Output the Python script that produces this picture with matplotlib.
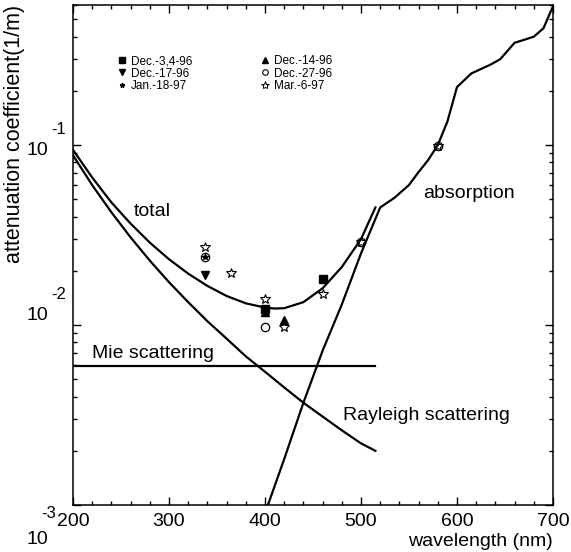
import math
import matplotlib
matplotlib.use("Agg")
import matplotlib.pyplot as plt
from matplotlib.ticker import MultipleLocator, LogLocator, NullFormatter, FixedLocator
from matplotlib.lines import Line2D

plt.rcParams['font.family'] = ['Liberation Sans', 'DejaVu Sans']

# ---- data ----
wl_total = [200, 220, 240, 260, 280, 300, 320, 340, 360, 380, 400, 410, 420, 440, 460, 480, 500, 515]
total = [0.094, 0.066, 0.048, 0.0366, 0.0287, 0.0232, 0.0193, 0.0165, 0.0145, 0.0132,
         0.0125, 0.01235, 0.0124, 0.0134, 0.0160, 0.0210, 0.0300, 0.045]

wl_rayleigh = [200, 220, 240, 260, 280, 300, 320, 340, 360, 380, 400, 420, 440, 460, 480, 500, 515]
rayleigh = [0.0877, 0.0599, 0.0423, 0.0307, 0.0228, 0.0173, 0.0134, 0.0105, 0.0084, 0.0067,
            0.0055, 0.0045, 0.0037, 0.0031, 0.0026, 0.0022, 0.0020]

wl_mie = [200, 515]
mie = [0.0059, 0.0059]

wl_absorption = [400, 420, 440, 460, 480, 500, 520, 535, 550, 560, 570, 580, 590, 600,
                 615, 635, 645, 660, 667, 680, 690, 700]
absorption = [0.0009, 0.0018, 0.0037, 0.0072, 0.013, 0.025, 0.045, 0.051, 0.060, 0.0708,
              0.0826, 0.100, 0.135, 0.21, 0.25, 0.28, 0.30, 0.37, 0.38, 0.40, 0.445, 0.59]

# measurements
dec3_wl = [400, 460]
dec3 = [0.0122, 0.018]
dec14_wl = [420, 400]
dec14 = [0.0106, 0.0118]
dec17_wl = [337, 400]
dec17 = [0.019, 0.0120]
dec27_wl = [337, 400, 500, 580]
dec27 = [0.024, 0.0098, 0.029, 0.099]
jan18_wl = [337]
jan18 = [0.024]
mar6_wl = [337, 365, 400, 420, 460, 500, 580]
mar6 = [0.027, 0.0195, 0.0140, 0.0098, 0.0149, 0.029, 0.099]

xticks = [200, 300, 400, 500, 600, 700]
ydecades = [1e-1, 1e-2, 1e-3]

# ---- figure ----
W, H = 571, 552
fig = plt.figure(figsize=(W / 100, H / 100), dpi=100)
L, R, T, B = 73, 553, 5, 505
ax = fig.add_axes([L / W, 1 - B / H, (R - L) / W, (B - T) / H])

lw = 1.6
ax.plot(wl_total, total, color='black', lw=lw)
ax.plot(wl_rayleigh, rayleigh, color='black', lw=lw)
ax.plot(wl_mie, mie, color='black', lw=lw)
ax.plot(wl_absorption, absorption, color='black', lw=lw)

ms = dict(linestyle='none', color='black')
ax.plot(dec3_wl, dec3, marker='s', markersize=5.5, **ms)
ax.plot(dec14_wl, dec14, marker='^', markersize=5.5, **ms)
ax.plot(dec17_wl, dec17, marker='v', markersize=5.5, **ms)
ax.plot(dec27_wl, dec27, marker='o', markersize=6, mfc='none', mew=0.9, **ms)
ax.plot(jan18_wl, jan18, marker='*', markersize=4, **ms)
ax.plot(mar6_wl, mar6, marker='*', markersize=7.5, mfc='none', mew=0.8, **ms)

ax.set_yscale('log')
ax.set_xlim(200, 700)
ax.set_ylim(1e-3, 0.6)

ax.xaxis.set_major_locator(FixedLocator(xticks))
ax.xaxis.set_minor_locator(MultipleLocator(20))
ax.set_xticklabels([str(v) for v in xticks])
ax.yaxis.set_major_locator(FixedLocator(ydecades))
ax.yaxis.set_minor_locator(LogLocator(base=10, subs=range(2, 10), numticks=20))
ax.yaxis.set_major_formatter(NullFormatter())
ax.yaxis.set_minor_formatter(NullFormatter())

ax.tick_params(which='both', direction='in', top=True, right=True, width=1.0)
ax.tick_params(which='major', length=6, labelsize=14, pad=6)
ax.tick_params(which='minor', length=3)
for s in ax.spines.values():
    s.set_linewidth(1.1)

# y tick labels in the "10 with exponent" style
# (dy: pixel offset of "10" downwards; ex, ey: exponent right edge / centre offsets in px)
for val, dy, ex, ey in zip(ydecades, [5, -10, 35], [-7, -7, -17], [-16, -31, 8]):
    ax.annotate('10', xy=(0, val), xycoords=('axes fraction', 'data'),
                xytext=(-18, -dy * 0.72), textcoords='offset points',
                ha='right', va='center', fontsize=14)
    ax.annotate('%d' % round(math.log10(val)), xy=(0, val),
                xycoords=('axes fraction', 'data'),
                xytext=(ex * 0.72, -ey * 0.72), textcoords='offset points',
                ha='right', va='center', fontsize=12)

fig.text(15 / W, 1 - 5 / H, 'attenuation coefficient(1/m)', rotation=90,
         ha='center', va='top', fontsize=15.5)
fig.text(R / W, 1 - 541 / H, 'wavelength (nm)', ha='right', va='center', fontsize=14)

ax.text(0.127, 0.5866, 'total', transform=ax.transAxes, ha='left', va='center', fontsize=14)
ax.text(0.921, 0.622, 'absorption', transform=ax.transAxes, ha='right', va='center', fontsize=14)
ax.text(0.0402, 0.302, 'Mie scattering', transform=ax.transAxes, ha='left', va='center', fontsize=14)
ax.text(0.5619, 0.18, 'Rayleigh scattering', transform=ax.transAxes, ha='left', va='center', fontsize=14)

labels = ['Dec.-3,4-96', 'Dec.-17-96', 'Jan.-18-97', 'Dec.-14-96', 'Dec.-27-96', 'Mar.-6-97']
leg_handles = [
    Line2D([], [], ls='none', marker='s', color='black', markersize=4),
    Line2D([], [], ls='none', marker='v', color='black', markersize=4),
    Line2D([], [], ls='none', marker='*', color='black', markersize=3.5),
    Line2D([], [], ls='none', marker='^', color='black', markersize=4),
    Line2D([], [], ls='none', marker='o', color='black', mfc='none', markersize=4, mew=0.8),
    Line2D([], [], ls='none', marker='*', color='black', mfc='none', markersize=6, mew=0.7),
]
ax.legend(leg_handles, labels, ncol=2, loc='upper left',
          bbox_to_anchor=((117 - L) / (R - L), (B - 55) / (B - T)),
          frameon=False, fontsize=8.5, handlelength=0.8, handletextpad=0.4,
          columnspacing=5.7, labelspacing=0.05, borderpad=0, borderaxespad=0)

fig.savefig('out.png', dpi=100)
